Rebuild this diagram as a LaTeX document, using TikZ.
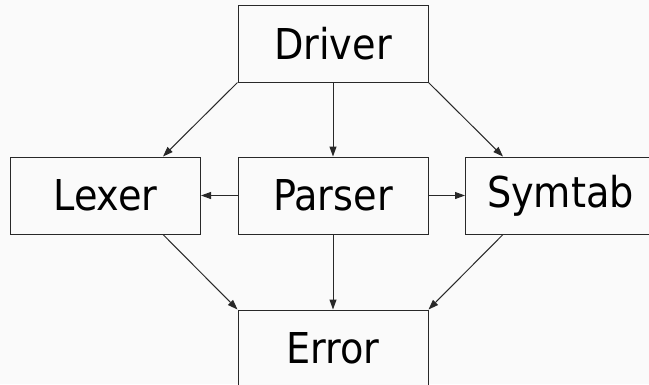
\documentclass[tikz,border=0pt]{standalone}
\usepackage{fontspec}
\setmainfont{DejaVu Sans Condensed}
\usetikzlibrary{%
	arrows.meta,%
	positioning,%
}
\definecolor{cbg}{RGB}{250, 250, 250}
\definecolor{cline}{RGB}{40, 40, 40}
\tikzset{
	>={Triangle[length=10pt,width=7pt]},%
	module/.style={%
			draw=cline,%
			rectangle,%
			line width=1pt,%
			minimum width=190pt,%
			minimum height=77pt,%
			inner sep=0pt,%
			font={\fontsize{42.5}{50}\selectfont},%
			fill=cbg},%
	link/.style={%
			->,%
			draw=cline,%
			line width=1pt},%
}

\begin{document}
\begin{tikzpicture}[x=1pt, y=1pt, node distance=74pt and 36.5pt]%
	\fill[cbg] (0,0) rectangle (649,-384);
	\useasboundingbox (0,0) rectangle (649,-384);

	\node[module] (parser) at (333,-195.5) {Parser};
	\node[module] (driver) [above=of parser] {Driver};
	\node[module] (lexer) [left=of parser] {Lexer};
	\node[module] (symtab) [right=of parser] {Symtab};
	\node[module] (error) [below=75pt of parser] {Error};

	\draw[link] (driver.south west) -- ([xshift=-38pt]lexer.north east);
	\draw[link] (driver) -- (parser);
	\draw[link] (driver.south east) -- ([xshift=38pt]symtab.north west);
	\draw[link] (parser) -- (lexer);
	\draw[link] (parser) -- (symtab);
	\draw[link] ([xshift=-38pt]lexer.south east) -- (error.north west);
	\draw[link] (parser) -- (error);
	\draw[link] ([xshift=38pt]symtab.south west) -- (error.north east);
\end{tikzpicture}
\end{document}
